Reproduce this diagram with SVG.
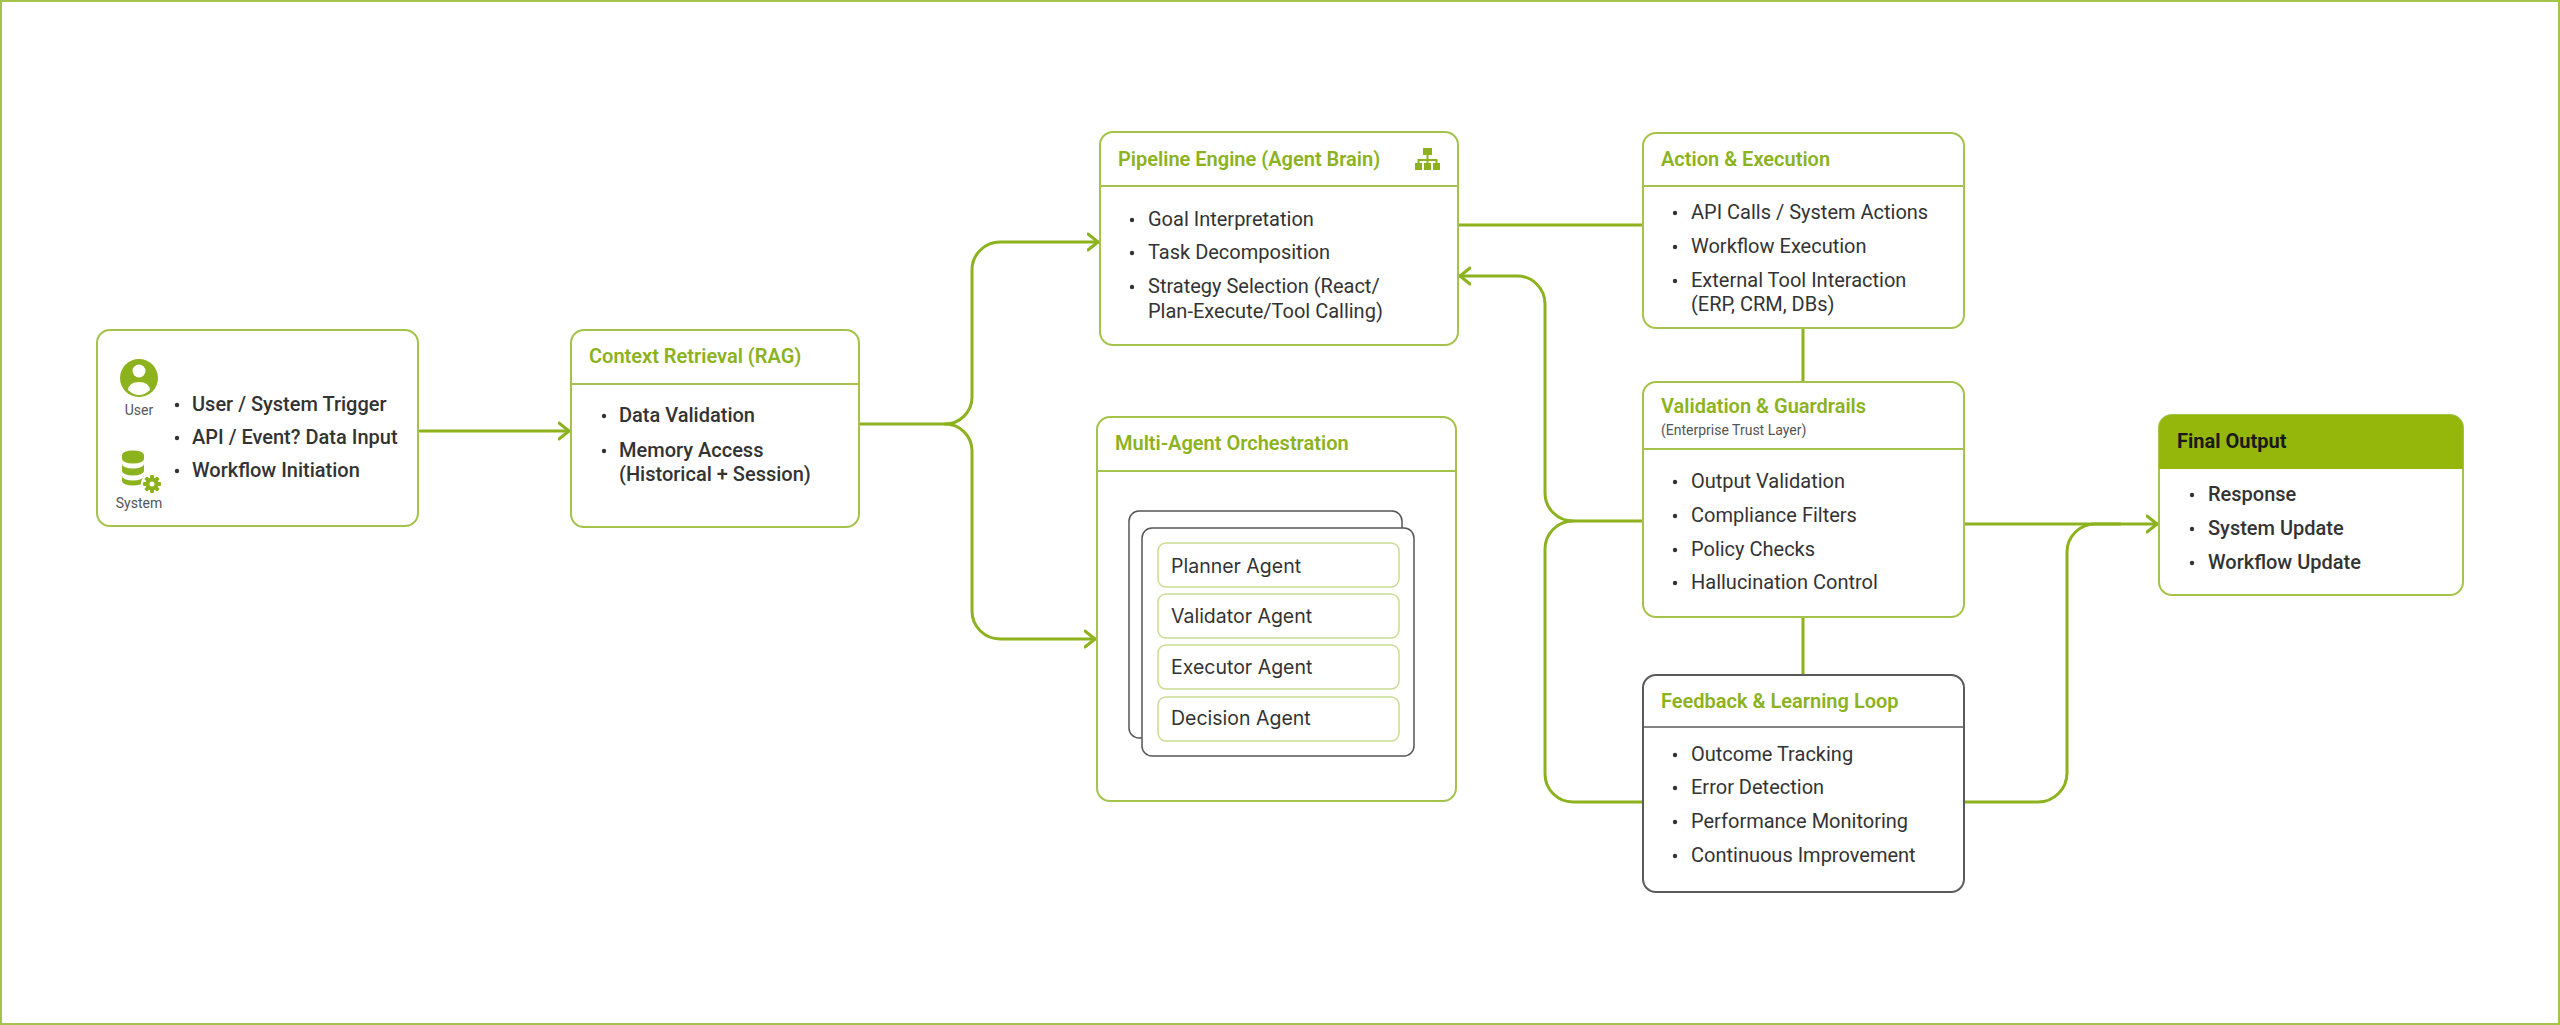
<svg xmlns="http://www.w3.org/2000/svg" width="2560" height="1025" viewBox="0 0 2560 1025">
<style>
.box{fill:#fff;stroke:#a4c34a;stroke-width:2}
.boxg{fill:#fff;stroke:#5a5a5a;stroke-width:2}
.hl{stroke:#a4c34a;stroke-width:1.8}
.hlg{stroke:#5a5a5a;stroke-width:1.5}
.title{font-family:Roboto,"Liberation Sans",sans-serif;font-size:20px;font-weight:600;fill:#8cb21e}
.sub{font-family:Roboto,"Liberation Sans",sans-serif;font-size:14px;fill:#555}
.t{font-family:Roboto,"Liberation Sans",sans-serif;font-size:20px;fill:#333}
.tm{font-family:Roboto,"Liberation Sans",sans-serif;font-size:20px;font-weight:500;fill:#333}
.lbl{font-family:Roboto,"Liberation Sans",sans-serif;font-size:14px;fill:#555;text-anchor:middle}
.ag{font-family:Inter,Roboto,"Liberation Sans",sans-serif;font-size:19.5px;fill:#333}
.pill{fill:#fff;stroke:#c9dc93;stroke-width:1.5}
.card{fill:#fff;stroke:#555;stroke-width:1.5}
.dot{fill:#333}
.ic{fill:#8cb21e}
.con{fill:none;stroke:#8cb21e;stroke-width:3;stroke-linecap:round}
</style>
<defs>
<marker id="arr" viewBox="0 0 12 20" refX="11" refY="10" markerWidth="12" markerHeight="20" markerUnits="userSpaceOnUse" orient="auto">
<path d="M1,2 L11,10 L1,18" fill="none" stroke="#8cb21e" stroke-width="3" stroke-linecap="round" stroke-linejoin="round"/>
</marker>
</defs>
<rect x="1" y="1" width="2558" height="1023" fill="#fff" stroke="#a4c34a" stroke-width="2"/>

<g id="connectors">
<path class="con" d="M420,431 H569" marker-end="url(#arr)"/>
<path class="con" d="M859,424 H945 A27,27 0 0 0 972,397 V270 A28,28 0 0 1 1000,242 H1098" marker-end="url(#arr)"/>
<path class="con" d="M945,424 A27,27 0 0 1 972,451 V611 A28,28 0 0 0 1000,639 H1095" marker-end="url(#arr)"/>
<path class="con" d="M1458,225 H1643"/>
<path class="con" d="M1803,328 V382"/>
<path class="con" d="M1803,617 V675"/>
<path class="con" d="M1964,524 H2157" marker-end="url(#arr)"/>
<path class="con" d="M1964,802 H2038 A29,29 0 0 0 2067,773 V552 A28,28 0 0 1 2095,524 H2120"/>
<path class="con" d="M1642,521 H1573 A28,28 0 0 1 1545,493 V304 A28,28 0 0 0 1517,276 H1460" marker-end="url(#arr)"/>
<path class="con" d="M1642,802 H1573 A28,28 0 0 1 1545,774 V549 A28,28 0 0 1 1573,521"/>
</g>

<g id="trigger">
<rect class="box" x="97" y="330" width="321" height="196" rx="13"/>
<circle class="ic" cx="139" cy="378" r="19"/>
<circle cx="139" cy="371" r="6.5" fill="#fff"/>
<path d="M128,390 Q129,382 139,382 Q149,382 150,390 Q145,395 139,395 Q133,395 128,390 Z" fill="#fff"/>
<text class="lbl" x="139" y="415">User</text>
<path class="ic" d="M122,455 a11,4.5 0 0 1 22,0 v4 a11,4.5 0 0 1 -22,0 z"/>
<path class="ic" d="M122,464 a11,4.5 0 0 0 22,0 v7 a11,4.5 0 0 1 -22,0 z"/>
<path class="ic" d="M122,476 a11,4.5 0 0 0 22,0 v5 a11,4.5 0 0 1 -22,0 z"/>
<circle cx="152" cy="484" r="11" fill="#fff"/>
<g class="ic">
<circle cx="152" cy="484" r="6.5"/>
<rect x="150" y="475" width="4" height="18" rx="1"/>
<rect x="143" y="482" width="18" height="4" rx="1"/>
<rect x="150" y="475" width="4" height="18" rx="1" transform="rotate(45 152 484)"/>
<rect x="150" y="475" width="4" height="18" rx="1" transform="rotate(-45 152 484)"/>
</g>
<circle cx="152" cy="484" r="2.5" fill="#fff"/>
<text class="lbl" x="139" y="508">System</text>
<circle class="dot" cx="177" cy="405" r="2.2"/>
<circle class="dot" cx="177" cy="438" r="2.2"/>
<circle class="dot" cx="177" cy="471" r="2.2"/>
<text class="tm" x="192" y="411">User / System Trigger</text>
<text class="tm" x="192" y="444">API / Event? Data Input</text>
<text class="tm" x="192" y="477">Workflow Initiation</text>
</g>

<g id="context">
<rect class="box" x="571" y="330" width="288" height="197" rx="13"/>
<line class="hl" x1="571" y1="384" x2="859" y2="384"/>
<text class="title" x="589" y="363">Context Retrieval (RAG)</text>
<circle class="dot" cx="604" cy="416" r="2.2"/>
<circle class="dot" cx="604" cy="451" r="2.2"/>
<text class="tm" x="619" y="422">Data Validation</text>
<text class="tm" x="619" y="457">Memory Access</text>
<text class="tm" x="619" y="481">(Historical + Session)</text>
</g>

<g id="pipeline">
<rect class="box" x="1100" y="132" width="358" height="213" rx="13"/>
<line class="hl" x1="1100" y1="186" x2="1458" y2="186"/>
<text class="title" x="1118" y="166">Pipeline Engine (Agent Brain)</text>
<g class="ic">
<rect x="1423" y="148" width="9" height="7"/>
<rect x="1426.5" y="155" width="2" height="5"/>
<rect x="1418" y="159" width="19" height="2"/>
<rect x="1417.5" y="159" width="2" height="5"/>
<rect x="1426.5" y="159" width="2" height="5"/>
<rect x="1435.5" y="159" width="2" height="5"/>
<rect x="1415" y="163" width="7" height="7"/>
<rect x="1424" y="163" width="7" height="7"/>
<rect x="1433" y="163" width="7" height="7"/>
</g>
<circle class="dot" cx="1132" cy="220" r="2.2"/>
<circle class="dot" cx="1132" cy="253" r="2.2"/>
<circle class="dot" cx="1132" cy="287" r="2.2"/>
<text class="t" x="1148" y="226">Goal Interpretation</text>
<text class="t" x="1148" y="259">Task Decomposition</text>
<text class="t" x="1148" y="293">Strategy Selection (React/</text>
<text class="t" x="1148" y="318">Plan-Execute/Tool Calling)</text>
</g>

<g id="multiagent">
<rect class="box" x="1097" y="417" width="359" height="384" rx="13"/>
<line class="hl" x1="1097" y1="471" x2="1456" y2="471"/>
<text class="title" x="1115" y="450">Multi-Agent Orchestration</text>
<rect class="card" x="1129" y="511" width="273" height="227" rx="10"/>
<rect class="card" x="1142" y="528" width="272" height="228" rx="10"/>
<rect class="pill" x="1158" y="543" width="241" height="44" rx="8"/>
<rect class="pill" x="1158" y="594" width="241" height="44" rx="8"/>
<rect class="pill" x="1158" y="645" width="241" height="44" rx="8"/>
<rect class="pill" x="1158" y="697" width="241" height="44" rx="8"/>
<text class="ag" x="1171" y="573">Planner Agent</text>
<text class="ag" x="1171" y="623">Validator Agent</text>
<text class="ag" x="1171" y="674">Executor Agent</text>
<text class="ag" x="1171" y="725">Decision Agent</text>
</g>

<g id="action">
<rect class="box" x="1643" y="133" width="321" height="195" rx="13"/>
<line class="hl" x1="1643" y1="186" x2="1964" y2="186"/>
<text class="title" x="1661" y="166">Action &amp; Execution</text>
<circle class="dot" cx="1675" cy="213" r="2.2"/>
<circle class="dot" cx="1675" cy="247" r="2.2"/>
<circle class="dot" cx="1675" cy="281" r="2.2"/>
<text class="t" x="1691" y="219">API Calls / System Actions</text>
<text class="t" x="1691" y="253">Workflow Execution</text>
<text class="t" x="1691" y="287">External Tool Interaction</text>
<text class="t" x="1691" y="311">(ERP, CRM, DBs)</text>
</g>

<g id="validation">
<rect class="box" x="1643" y="382" width="321" height="235" rx="13"/>
<line class="hl" x1="1643" y1="449" x2="1964" y2="449"/>
<text class="title" x="1661" y="413">Validation &amp; Guardrails</text>
<text class="sub" x="1661" y="435">(Enterprise Trust Layer)</text>
<circle class="dot" cx="1675" cy="482" r="2.2"/>
<circle class="dot" cx="1675" cy="516" r="2.2"/>
<circle class="dot" cx="1675" cy="550" r="2.2"/>
<circle class="dot" cx="1675" cy="583" r="2.2"/>
<text class="t" x="1691" y="488">Output Validation</text>
<text class="t" x="1691" y="522">Compliance Filters</text>
<text class="t" x="1691" y="556">Policy Checks</text>
<text class="t" x="1691" y="589">Hallucination Control</text>
</g>

<g id="feedback">
<rect class="boxg" x="1643" y="675" width="321" height="217" rx="13"/>
<line class="hlg" x1="1643" y1="727" x2="1964" y2="727"/>
<text class="title" x="1661" y="708">Feedback &amp; Learning Loop</text>
<circle class="dot" cx="1675" cy="755" r="2.2"/>
<circle class="dot" cx="1675" cy="788" r="2.2"/>
<circle class="dot" cx="1675" cy="822" r="2.2"/>
<circle class="dot" cx="1675" cy="856" r="2.2"/>
<text class="t" x="1691" y="761">Outcome Tracking</text>
<text class="t" x="1691" y="794">Error Detection</text>
<text class="t" x="1691" y="828">Performance Monitoring</text>
<text class="t" x="1691" y="862">Continuous Improvement</text>
</g>

<g id="final">
<rect class="box" x="2159" y="415" width="304" height="180" rx="13"/>
<path d="M2159,469 V428 a13,13 0 0 1 13,-13 H2450 a13,13 0 0 1 13,13 V469 Z" fill="#95b70c"/>
<text x="2177" y="448" font-family="Roboto,'Liberation Sans',sans-serif" font-size="20" font-weight="700" fill="#1a1a1a">Final Output</text>
<circle class="dot" cx="2192" cy="495" r="2.2"/>
<circle class="dot" cx="2192" cy="529" r="2.2"/>
<circle class="dot" cx="2192" cy="563" r="2.2"/>
<text class="tm" x="2208" y="501">Response</text>
<text class="tm" x="2208" y="535">System Update</text>
<text class="tm" x="2208" y="569">Workflow Update</text>
</g>
</svg>
